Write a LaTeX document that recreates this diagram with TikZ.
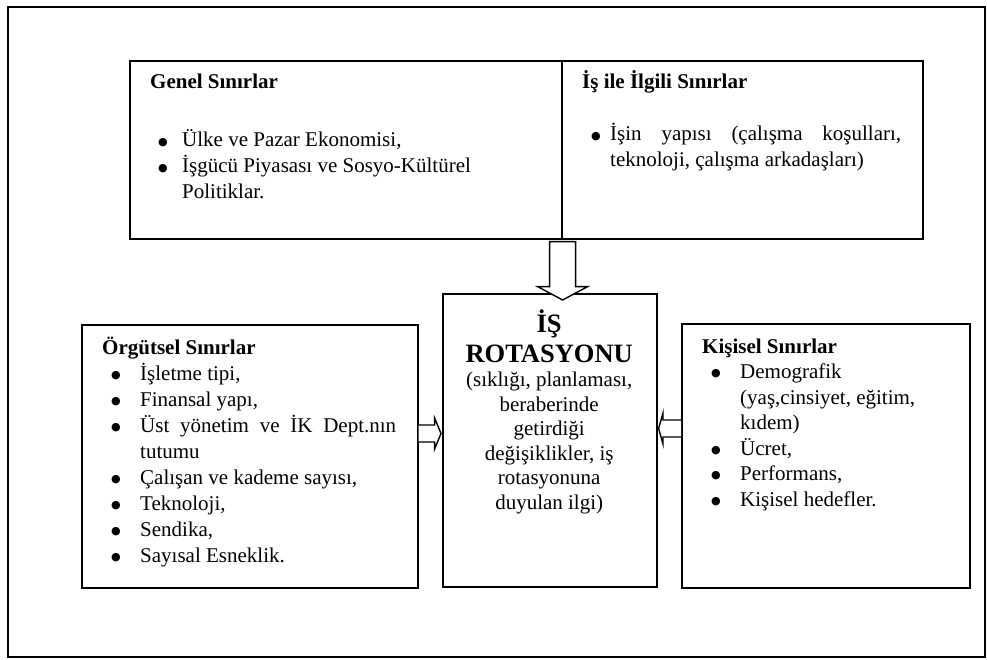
\documentclass[tikz,border=0pt]{standalone}
\usepackage{fontspec}
\setmainfont{Liberation Serif}
\newfontfamily\symfont{DejaVu Sans}
\usetikzlibrary{calc}

% bullet list items with a hanging indent
\newlength\bulx
\newlength\txtx
\newcommand\bigbullet{\raisebox{1.8pt}{\symfont\fontsize{11}{0}\selectfont ●}}
\newcommand\bitem[1]{\par\noindent\hangindent=\txtx\hangafter=1
  \hbox to \txtx{\hspace*{\bulx}\bigbullet\hfil}#1}

\hyphenpenalty=10000
\exhyphenpenalty=10000

\tikzset{
  box/.style={draw, line width=1.6pt, rectangle, inner sep=0pt, anchor=north west},
  txt/.style={anchor=base west, inner sep=0pt},
  blockarrow/.style={draw, line width=1.4pt, fill=white, line join=miter},
  frame/.style={draw, line width=1.8pt},
}

\begin{document}
\begin{tikzpicture}[x=1pt, y=-1pt]
  \useasboundingbox (0,0) rectangle (987,660);
  \draw[frame] (8,7) rectangle (985,657);

  % boxes
  \node[box, minimum width=432pt, minimum height=178pt] (genel) at (129,60) {};
  \node[box, minimum width=361pt, minimum height=178pt] (isile) at (561,60) {};
  \node[box, minimum width=214pt, minimum height=293pt] (rot) at (442,293) {};
  \node[box, minimum width=336pt, minimum height=263pt] (org) at (81,324) {};
  \node[box, minimum width=288pt, minimum height=264pt] (kis) at (681,323) {};

  % general limits
  \node[txt] (geneltxt) at (150,89) {\parbox[t]{395pt}{%
    \fontsize{21}{26}\selectfont\setlength\bulx{8pt}\setlength\txtx{32pt}%
    {\bfseries Genel Sınırlar}\par\vspace{32pt}
    \bitem{Ülke ve Pazar Ekonomisi,}
    \bitem{İşgücü Piyasası ve Sosyo-Kültürel\newline Politiklar.}\par}};

  % job related limits
  \node[txt] (isiletxt) at (582,89) {\parbox[t]{319pt}{%
    \fontsize{21}{26}\selectfont\setlength\bulx{9pt}\setlength\txtx{28pt}%
    {\bfseries İş ile İlgili Sınırlar}\par\vspace{26pt}
    \bitem{İşin yapısı (çalışma koşulları,\linebreak teknoloji, çalışma arkadaşları)}\par}};

  % organisational limits
  \node[txt] (orgtxt) at (102,354) {\parbox[t]{294pt}{%
    \fontsize{21}{26}\selectfont\setlength\bulx{9pt}\setlength\txtx{38pt}%
    {\bfseries Örgütsel Sınırlar}
    \bitem{İşletme tipi,}
    \bitem{Finansal yapı,}
    \bitem{Üst yönetim ve İK Dept.nın\linebreak tutumu}
    \bitem{Çalışan ve kademe sayısı,}
    \bitem{Teknoloji,}
    \bitem{Sendika,}
    \bitem{Sayısal Esneklik.}\par}};

  % personal limits
  \node[txt] (kistxt) at (702,353) {\parbox[t]{260pt}{%
    \fontsize{21}{25.5}\selectfont\setlength\bulx{9pt}\setlength\txtx{38pt}%
    {\bfseries Kişisel Sınırlar}
    \bitem{Demografik\newline (yaş,cinsiyet, eğitim,\newline kıdem)}
    \bitem{Ücret,}
    \bitem{Performans,}
    \bitem{Kişisel hedefler.}\par}};

  % job rotation
  \node[txt] (rottxt) at (442,332) {\parbox[t]{214pt}{\centering
    {\fontsize{26.5}{30}\selectfont\bfseries İŞ\\ROTASYONU\par}
    {\fontsize{21}{24.5}\selectfont (sıklığı, planlaması,\\beraberinde\\getirdiği\\değişiklikler, iş\\rotasyonuna\\duyulan ilgi)\par}}};

  % block arrow from the upper limits down into job rotation
  \coordinate (topstart) at ($(genel.south east)+(0,2)$);
  \coordinate (toptip) at ($(rot.north -| topstart)+(0,7)$);
  \draw[blockarrow]
    ($(topstart)+(-13,0)$) -- ($(topstart)+(13,0)$) -- ($(topstart)+(13,45)$)
    -- ($(topstart)+(25,45)$) -- (toptip)
    -- ($(topstart)+(-25,45)$) -- ($(topstart)+(-13,45)$) -- cycle;

  % arrow from organisational limits
  \coordinate (orgstart) at ($(org.east |- 0,433.5)$);
  \draw[blockarrow]
    ($(orgstart)+(0,-8.5)$) -- ($(orgstart)+(16,-8.5)$) -- ($(orgstart)+(16,-15.5)$)
    -- ($(rot.west |- orgstart)+(-1,0)$)
    -- ($(orgstart)+(16,15.5)$) -- ($(orgstart)+(16,8.5)$) -- ($(orgstart)+(0,8.5)$);

  % arrow from personal limits
  \coordinate (kisstart) at ($(kis.west |- 0,428.5)$);
  \draw[blockarrow]
    ($(kisstart)+(0,-8.5)$) -- ($(kisstart)+(-18,-8.5)$) -- ($(kisstart)+(-18,-15.5)$)
    -- ($(rot.east |- kisstart)+(1,0)$)
    -- ($(kisstart)+(-18,15.5)$) -- ($(kisstart)+(-18,8.5)$) -- ($(kisstart)+(0,8.5)$);
\end{tikzpicture}
\end{document}
